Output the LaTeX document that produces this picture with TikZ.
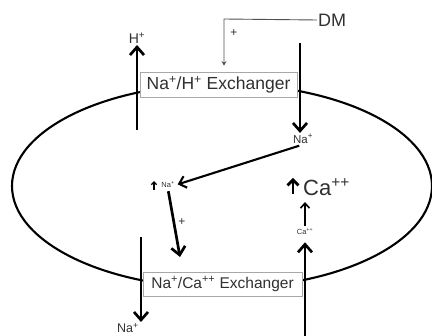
\documentclass[tikz,border=0pt]{standalone}
\usepackage{fontspec}
\setmainfont{Liberation Sans}
\usetikzlibrary{arrows.meta}
\definecolor{ink}{HTML}{303030}
\definecolor{rim}{HTML}{A8A8A8}
\newcommand{\sps}[1]{\textsuperscript{#1}}
\begin{document}
\begin{tikzpicture}[x=1pt,y=-1pt,
  flux/.style={line width=2.7pt,-{Straight Barb[length=8pt,width=14pt]}},
  fluxthin/.style={line width=2.1pt,-{Straight Barb[length=6.5pt,width=12pt]}},
  fluxtiny/.style={line width=1.6pt,-{Straight Barb[length=5pt,width=9pt]}},
  signal/.style={line width=0.9pt,draw=ink!85,-{Stealth[length=4.5pt,width=5pt]}},
  exbox/.style={draw=rim,line width=0.8pt,fill=white,inner sep=0pt,text=ink},
  lab/.style={inner sep=1pt,text=ink}]
\useasboundingbox (0,0) rectangle (432,336);

% cell membrane
\draw[line width=2.1pt] (222,186) ellipse [x radius=210, y radius=102];

% exchangers sitting in the membrane
\node[exbox,minimum width=157,minimum height=25,font=\fontsize{17.5}{19}\selectfont]
  (nhe) at (218.5,84.5) {Na\sps{+}/H\sps{+} Exchanger};
\node[exbox,minimum width=159,minimum height=24,font=\fontsize{15.5}{17}\selectfont]
  (ncx) at (222.5,284) {Na\sps{+}/Ca\sps{++} Exchanger};

% H+ leaving through the Na+/H+ exchanger
\coordinate (hbase) at (137,130);
\node[lab,anchor=south,font=\fontsize{14}{15}\selectfont] (hout) at (137,45) {H\sps{+}};
\draw[flux] (hbase) -- (hout.south);

% Na+ entering through the Na+/H+ exchanger
\coordinate (ntop) at (300,43);
\node[lab,anchor=north,font=\fontsize{11.5}{12}\selectfont] (nain) at (303,133) {Na\sps{+}};
\draw[flux] (ntop) -- (ntop |- nain.north);

% DM stimulates the Na+/H+ exchanger
\node[lab,font=\fontsize{18}{19}\selectfont] (dm) at (332,20) {DM};
\coordinate (dmcorner) at (224,19);
\draw[signal,shorten >=6pt] (dm.west) -- (dmcorner) -- (dmcorner |- nhe.north);
\node[lab,font=\fontsize{12}{13}\selectfont] (plusdm) at (234,33) {+};

% intracellular Na+ rise
\node[lab,font=\fontsize{7.5}{8}\selectfont] (nacyt) at (168,185) {Na\sps{+}};
\coordinate (nacytlow) at (154,190);
\coordinate (nacythigh) at (154,181);
\draw[line width=1.3pt,-{Straight Barb[length=2.8pt,width=5.5pt]}] (nacytlow) -- (nacythigh);
\draw[fluxthin,shorten <=4pt,shorten >=2pt] (nain.south) -- (nacyt.east);

% Na+ drives the Na+/Ca++ exchanger
\coordinate (ncxin) at (180,257);
\draw[flux,shorten <=2pt] (nacyt.south) -- (ncxin);
\node[lab,font=\fontsize{12}{13}\selectfont] (plusna) at (182,222) {+};

% Na+ leaving through the Na+/Ca++ exchanger
\coordinate (nbtop) at (141,237);
\node[lab,font=\fontsize{12.5}{13}\selectfont] (naout) at (128,328) {Na\sps{+}};
\draw[flux] (nbtop) -- (nbtop |- naout.north);

% Ca++ entering through the Na+/Ca++ exchanger
\coordinate (cabase) at (305,340);
\node[lab,font=\fontsize{7.5}{8}\selectfont] (cain) at (305,232) {Ca\sps{++}};
\draw[flux,shorten >=6pt] (cabase) -- (cain.south);
\coordinate (catip) at (305,202);
\draw[fluxtiny,shorten <=2pt] (cain.north) -- (catip);

% intracellular Ca++ rise
\node[lab,anchor=west,font=\fontsize{22}{24}\selectfont] (cabig) at (302,187) {Ca\sps{++}};
\coordinate (cabiglow) at (293,194);
\coordinate (cabighigh) at (293,178);
\draw[line width=2.7pt,-{Straight Barb[length=5.5pt,width=11pt]}] (cabiglow) -- (cabighigh);
\end{tikzpicture}
\end{document}
